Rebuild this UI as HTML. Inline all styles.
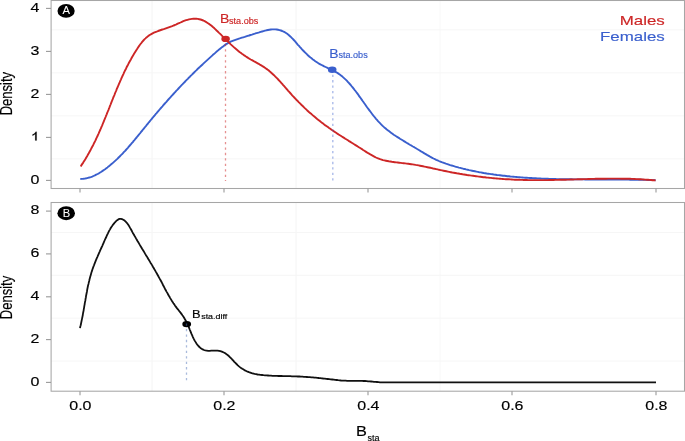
<!DOCTYPE html><html><head><meta charset="utf-8"><style>html,body{margin:0;padding:0;background:#fff;overflow:hidden}svg{display:block;will-change:transform}text{font-family:"Liberation Sans",sans-serif}</style></head><body>
<svg width="685" height="441" viewBox="0 0 685 441">
<rect width="685" height="441" fill="#fff"/>
<g stroke="#f6f6f6" stroke-width="1"><line x1="152.0" y1="0.5" x2="152.0" y2="188.5" stroke="#f4f4f4"/><line x1="152.0" y1="202.5" x2="152.0" y2="391.2" stroke="#f4f4f4"/><line x1="296.0" y1="0.5" x2="296.0" y2="188.5" stroke="#f4f4f4"/><line x1="296.0" y1="202.5" x2="296.0" y2="391.2" stroke="#f4f4f4"/><line x1="440.0" y1="0.5" x2="440.0" y2="188.5" stroke="#f8f8f8"/><line x1="440.0" y1="202.5" x2="440.0" y2="391.2" stroke="#f8f8f8"/><line x1="51" y1="158.9" x2="684" y2="158.9"/><line x1="51" y1="115.9" x2="684" y2="115.9"/><line x1="51" y1="72.9" x2="684" y2="72.9"/><line x1="51" y1="29.9" x2="684" y2="29.9"/><line x1="51" y1="361.0" x2="684" y2="361.0"/><line x1="51" y1="318.2" x2="684" y2="318.2"/><line x1="51" y1="275.3" x2="684" y2="275.3"/><line x1="51" y1="232.5" x2="684" y2="232.5"/></g>
<path d="M80.3 179.0 81.8 178.9 83.4 178.8 84.9 178.6 86.4 178.3 87.9 177.9 89.3 177.5 90.8 177.1 92.2 176.6 93.5 176.0 94.9 175.4 96.2 174.7 97.6 174.0 98.9 173.3 100.1 172.5 101.4 171.7 102.6 170.9 103.9 170.0 105.1 169.2 106.3 168.3 107.5 167.4 108.6 166.4 109.8 165.5 110.9 164.6 112.1 163.6 113.2 162.6 114.3 161.6 115.4 160.6 116.5 159.6 117.6 158.6 118.6 157.5 119.7 156.5 120.7 155.4 121.8 154.4 122.8 153.3 123.8 152.2 124.9 151.1 125.9 150.0 126.9 148.9 127.9 147.8 128.8 146.6 129.8 145.5 130.8 144.4 131.8 143.2 132.8 142.1 133.7 140.9 134.7 139.8 135.6 138.6 136.6 137.5 137.5 136.3 138.5 135.1 139.4 134.0 140.4 132.8 141.3 131.6 142.3 130.5 143.2 129.3 144.2 128.1 145.1 127.0 146.1 125.8 147.0 124.6 148.0 123.5 148.9 122.3 149.9 121.1 150.8 120.0 151.8 118.8 152.7 117.7 153.7 116.5 154.7 115.4 155.6 114.2 156.6 113.1 157.6 111.9 158.5 110.8 159.5 109.7 160.5 108.5 161.5 107.4 162.5 106.3 163.4 105.1 164.4 104.0 165.4 102.9 166.4 101.8 167.4 100.6 168.4 99.5 169.4 98.4 170.4 97.3 171.4 96.2 172.4 95.1 173.4 94.0 174.4 92.9 175.4 91.8 176.4 90.7 177.5 89.6 178.5 88.5 179.5 87.4 180.5 86.3 181.6 85.2 182.6 84.2 183.6 83.1 184.7 82.0 185.7 80.9 186.7 79.9 187.8 78.8 188.8 77.7 189.9 76.7 190.9 75.6 192.0 74.6 193.1 73.5 194.1 72.5 195.2 71.4 196.3 70.4 197.3 69.3 198.4 68.3 199.5 67.3 200.6 66.2 201.7 65.2 202.8 64.2 203.9 63.1 205.0 62.1 206.1 61.1 207.2 60.1 208.3 59.1 209.4 58.1 210.5 57.1 211.6 56.1 212.7 55.1 213.9 54.1 215.0 53.1 216.1 52.1 217.3 51.1 218.4 50.1 219.5 49.2 220.7 48.2 221.9 47.3 223.1 46.4 224.3 45.5 225.5 44.6 226.7 43.8 228.0 43.1 229.3 42.4 230.6 41.7 232.0 41.1 233.3 40.6 234.7 40.1 236.1 39.6 237.6 39.1 239.0 38.6 240.4 38.2 241.9 37.7 243.3 37.3 244.7 36.9 246.2 36.4 247.6 35.9 249.1 35.5 250.5 35.0 251.9 34.6 253.4 34.1 254.8 33.7 256.3 33.2 257.7 32.8 259.2 32.4 260.6 31.9 262.1 31.5 263.5 31.1 265.0 30.7 266.5 30.3 267.9 30.0 269.4 29.7 270.9 29.5 272.3 29.4 273.8 29.4 275.2 29.4 276.7 29.5 278.1 29.8 279.5 30.1 280.9 30.5 282.2 31.0 283.5 31.6 284.8 32.2 286.0 33.0 287.2 33.8 288.4 34.7 289.5 35.7 290.6 36.7 291.7 37.8 292.8 38.9 293.8 40.0 294.9 41.2 295.9 42.4 296.9 43.6 297.9 44.8 299.0 45.9 300.0 47.1 301.0 48.2 302.0 49.4 303.1 50.5 304.1 51.5 305.2 52.6 306.3 53.7 307.3 54.7 308.4 55.7 309.5 56.7 310.6 57.6 311.8 58.5 312.9 59.4 314.1 60.3 315.3 61.2 316.5 62.0 317.7 62.8 319.0 63.6 320.3 64.3 321.6 65.0 322.9 65.7 324.2 66.4 325.6 67.0 327.0 67.6 328.4 68.3 329.7 68.9 331.1 69.5 332.5 70.2 333.8 70.9 335.1 71.6 336.4 72.3 337.7 73.1 338.9 73.9 340.1 74.8 341.3 75.7 342.4 76.6 343.5 77.6 344.6 78.6 345.7 79.6 346.8 80.7 347.8 81.8 348.8 82.9 349.8 84.0 350.8 85.1 351.7 86.3 352.7 87.4 353.6 88.6 354.5 89.8 355.5 91.0 356.4 92.2 357.3 93.4 358.2 94.6 359.0 95.9 359.9 97.1 360.8 98.3 361.7 99.6 362.5 100.8 363.4 102.0 364.3 103.3 365.2 104.5 366.0 105.7 366.9 107.0 367.8 108.2 368.7 109.4 369.6 110.6 370.5 111.8 371.4 113.0 372.3 114.2 373.2 115.4 374.1 116.5 375.1 117.7 376.0 118.8 377.0 119.9 378.0 121.1 379.0 122.2 380.0 123.2 381.1 124.3 382.1 125.3 383.2 126.4 384.3 127.4 385.4 128.3 386.5 129.3 387.7 130.2 388.9 131.1 390.1 132.0 391.3 132.9 392.5 133.8 393.7 134.7 395.0 135.5 396.2 136.3 397.5 137.1 398.8 137.9 400.0 138.7 401.3 139.5 402.6 140.3 403.9 141.1 405.2 141.9 406.5 142.7 407.7 143.4 409.0 144.2 410.3 145.0 411.6 145.7 412.9 146.5 414.2 147.2 415.5 148.0 416.8 148.8 418.0 149.5 419.3 150.3 420.6 151.1 421.9 151.8 423.2 152.6 424.4 153.4 425.7 154.1 427.0 154.9 428.3 155.6 429.6 156.4 430.9 157.1 432.2 157.8 433.5 158.5 434.9 159.2 436.2 159.8 437.6 160.4 438.9 161.0 440.3 161.6 441.7 162.2 443.1 162.7 444.5 163.2 445.9 163.7 447.4 164.1 448.8 164.6 450.2 165.1 451.7 165.5 453.1 165.9 454.6 166.4 456.0 166.8 457.4 167.2 458.9 167.6 460.3 167.9 461.8 168.3 463.2 168.7 464.7 169.0 466.1 169.4 467.6 169.7 469.1 170.1 470.5 170.4 472.0 170.7 473.4 171.0 474.9 171.3 476.4 171.6 477.8 171.9 479.3 172.2 480.8 172.4 482.3 172.7 483.7 173.0 485.2 173.2 486.7 173.5 488.2 173.7 489.6 173.9 491.1 174.1 492.6 174.3 494.1 174.6 495.6 174.8 497.0 175.0 498.5 175.1 500.0 175.3 501.5 175.5 503.0 175.7 504.5 175.8 506.0 176.0 507.4 176.2 508.9 176.3 510.4 176.5 511.9 176.6 513.4 176.7 514.9 176.9 516.4 177.0 517.9 177.1 519.4 177.2 520.9 177.4 522.4 177.5 523.9 177.6 525.3 177.7 526.8 177.8 528.3 177.9 529.8 178.0 531.3 178.0 532.8 178.1 534.3 178.2 535.8 178.3 537.3 178.4 538.8 178.4 540.3 178.5 541.8 178.6 543.3 178.6 544.8 178.7 546.3 178.7 547.8 178.8 549.3 178.9 550.8 178.9 552.3 178.9 553.8 179.0 555.3 179.0 556.8 179.1 558.3 179.1 559.7 179.1 561.2 179.2 562.7 179.2 564.2 179.2 565.7 179.3 567.2 179.3 568.7 179.3 570.2 179.3 571.7 179.3 573.2 179.4 574.7 179.4 576.2 179.4 577.7 179.4 579.2 179.4 580.7 179.4 582.2 179.4 583.7 179.4 585.2 179.5 586.7 179.5 588.2 179.5 589.7 179.5 591.2 179.5 592.7 179.5 594.2 179.5 595.7 179.5 597.2 179.5 598.7 179.5 600.2 179.5 601.7 179.5 603.2 179.5 604.7 179.5 606.2 179.5 607.7 179.5 609.2 179.5 610.7 179.5 612.2 179.5 613.7 179.5 615.2 179.5 616.7 179.6 618.2 179.6 619.7 179.6 621.2 179.6 622.7 179.6 624.2 179.6 625.7 179.6 627.2 179.6 628.7 179.6 630.2 179.7 631.7 179.7 633.2 179.7 634.7 179.7 636.1 179.7 637.6 179.8 639.1 179.8 640.6 179.8 642.1 179.8 643.6 179.9 645.1 179.9 646.6 179.9 648.1 180.0 649.6 180.0 651.1 180.1 652.6 180.1 654.1 180.1 655.6 180.2" fill="none" stroke="#3A5FCD" stroke-width="1.9" stroke-linejoin="round" stroke-linecap="butt"/>
<path d="M80.7 166.4 81.5 165.1 82.3 163.9 83.2 162.6 84.0 161.3 84.8 160.1 85.6 158.8 86.3 157.5 87.1 156.2 87.8 154.9 88.6 153.6 89.3 152.3 90.0 151.0 90.7 149.7 91.4 148.3 92.1 147.0 92.8 145.7 93.5 144.4 94.1 143.0 94.8 141.7 95.5 140.3 96.1 139.0 96.7 137.6 97.4 136.3 98.0 134.9 98.6 133.6 99.2 132.2 99.8 130.8 100.4 129.5 101.0 128.1 101.6 126.7 102.2 125.3 102.7 124.0 103.3 122.6 103.9 121.2 104.4 119.8 105.0 118.4 105.6 117.0 106.1 115.6 106.7 114.3 107.2 112.9 107.8 111.5 108.4 110.1 108.9 108.7 109.5 107.3 110.0 105.9 110.6 104.5 111.1 103.1 111.7 101.7 112.2 100.3 112.8 98.9 113.3 97.5 113.9 96.2 114.5 94.8 115.0 93.4 115.6 92.0 116.2 90.6 116.7 89.2 117.3 87.8 117.9 86.5 118.5 85.1 119.1 83.7 119.7 82.3 120.3 80.9 120.9 79.6 121.5 78.2 122.1 76.8 122.7 75.5 123.4 74.1 124.0 72.7 124.6 71.4 125.3 70.0 126.0 68.7 126.6 67.3 127.3 66.0 128.0 64.7 128.7 63.3 129.4 62.0 130.1 60.7 130.9 59.4 131.6 58.0 132.3 56.7 133.1 55.4 133.9 54.1 134.7 52.8 135.5 51.5 136.3 50.2 137.1 49.0 137.9 47.7 138.8 46.4 139.6 45.2 140.5 44.0 141.5 42.8 142.4 41.6 143.4 40.5 144.4 39.4 145.5 38.4 146.5 37.4 147.7 36.5 148.8 35.6 150.1 34.8 151.3 34.1 152.6 33.4 153.9 32.7 155.3 32.1 156.7 31.6 158.1 31.0 159.5 30.5 160.9 30.0 162.3 29.5 163.7 29.1 165.2 28.6 166.6 28.1 168.0 27.6 169.4 27.1 170.8 26.6 172.2 26.1 173.6 25.5 175.0 25.0 176.4 24.4 177.7 23.7 179.1 23.1 180.5 22.5 181.9 21.8 183.3 21.2 184.7 20.7 186.1 20.2 187.5 19.8 189.0 19.4 190.5 19.1 191.9 18.9 193.4 18.8 194.9 18.7 196.3 18.8 197.8 18.9 199.2 19.2 200.6 19.5 202.0 20.0 203.3 20.5 204.6 21.2 205.9 21.9 207.2 22.7 208.4 23.5 209.7 24.4 210.9 25.3 212.1 26.3 213.2 27.3 214.4 28.3 215.5 29.4 216.6 30.5 217.7 31.5 218.8 32.6 219.9 33.6 221.0 34.7 222.1 35.8 223.1 36.8 224.2 37.9 225.2 38.9 226.3 40.0 227.3 41.0 228.4 42.0 229.5 43.1 230.5 44.1 231.6 45.1 232.7 46.1 233.8 47.1 234.9 48.1 236.0 49.0 237.2 50.0 238.3 50.9 239.5 51.9 240.7 52.8 241.9 53.7 243.1 54.5 244.3 55.4 245.6 56.3 246.9 57.1 248.1 57.9 249.4 58.7 250.7 59.5 252.0 60.2 253.3 60.9 254.7 61.7 256.0 62.4 257.3 63.1 258.6 63.8 259.9 64.6 261.2 65.3 262.4 66.1 263.7 66.9 264.9 67.7 266.1 68.6 267.3 69.4 268.5 70.3 269.6 71.3 270.7 72.2 271.8 73.2 272.9 74.2 274.0 75.2 275.1 76.3 276.1 77.3 277.2 78.4 278.2 79.5 279.2 80.6 280.2 81.7 281.2 82.8 282.2 83.9 283.2 85.1 284.2 86.2 285.2 87.3 286.2 88.5 287.2 89.6 288.2 90.8 289.2 91.9 290.2 93.0 291.2 94.1 292.2 95.3 293.2 96.4 294.3 97.5 295.3 98.6 296.3 99.7 297.4 100.7 298.4 101.8 299.5 102.9 300.5 103.9 301.6 105.0 302.7 106.0 303.8 107.1 304.8 108.1 305.9 109.1 307.0 110.2 308.1 111.2 309.2 112.2 310.4 113.2 311.5 114.1 312.6 115.1 313.7 116.1 314.9 117.1 316.0 118.0 317.2 119.0 318.4 119.9 319.5 120.8 320.7 121.8 321.9 122.7 323.1 123.6 324.2 124.5 325.4 125.4 326.7 126.2 327.9 127.1 329.1 128.0 330.3 128.8 331.5 129.7 332.8 130.5 334.0 131.4 335.3 132.2 336.5 133.0 337.7 133.9 339.0 134.7 340.3 135.5 341.5 136.3 342.8 137.1 344.1 137.9 345.3 138.7 346.6 139.5 347.9 140.3 349.1 141.1 350.4 141.9 351.7 142.7 353.0 143.5 354.2 144.3 355.5 145.1 356.8 145.9 358.1 146.7 359.3 147.5 360.6 148.3 361.9 149.1 363.1 150.0 364.4 150.8 365.7 151.6 366.9 152.4 368.2 153.2 369.5 153.9 370.8 154.7 372.1 155.4 373.4 156.1 374.7 156.8 376.0 157.5 377.4 158.1 378.7 158.6 380.1 159.2 381.5 159.6 383.0 160.1 384.4 160.4 385.9 160.7 387.3 161.0 388.8 161.3 390.3 161.5 391.8 161.8 393.3 162.0 394.8 162.2 396.3 162.4 397.7 162.5 399.2 162.7 400.7 162.9 402.2 163.1 403.7 163.2 405.2 163.4 406.7 163.6 408.2 163.8 409.7 164.0 411.2 164.2 412.6 164.4 414.1 164.6 415.6 164.9 417.1 165.1 418.6 165.4 420.0 165.7 421.5 166.0 423.0 166.3 424.4 166.6 425.9 166.9 427.4 167.2 428.8 167.5 430.3 167.8 431.8 168.1 433.2 168.5 434.7 168.8 436.1 169.1 437.6 169.4 439.1 169.8 440.5 170.1 442.0 170.4 443.5 170.7 444.9 171.0 446.4 171.3 447.9 171.6 449.3 171.9 450.8 172.2 452.3 172.5 453.8 172.7 455.2 173.0 456.7 173.3 458.2 173.5 459.7 173.8 461.1 174.0 462.6 174.3 464.1 174.5 465.6 174.7 467.1 175.0 468.5 175.2 470.0 175.4 471.5 175.6 473.0 175.8 474.5 176.0 476.0 176.2 477.4 176.4 478.9 176.6 480.4 176.8 481.9 177.0 483.4 177.2 484.9 177.3 486.4 177.5 487.9 177.6 489.4 177.8 490.9 177.9 492.3 178.1 493.8 178.2 495.3 178.4 496.8 178.5 498.3 178.6 499.8 178.7 501.3 178.9 502.8 179.0 504.3 179.1 505.8 179.2 507.3 179.3 508.8 179.3 510.3 179.4 511.8 179.5 513.3 179.6 514.8 179.7 516.3 179.7 517.8 179.8 519.3 179.8 520.8 179.9 522.3 179.9 523.7 180.0 525.2 180.0 526.7 180.0 528.2 180.1 529.7 180.1 531.2 180.1 532.7 180.1 534.2 180.1 535.7 180.1 537.2 180.1 538.7 180.1 540.2 180.1 541.7 180.1 543.2 180.1 544.7 180.1 546.2 180.1 547.7 180.1 549.2 180.0 550.7 180.0 552.2 180.0 553.7 180.0 555.2 179.9 556.7 179.9 558.2 179.9 559.7 179.8 561.2 179.8 562.7 179.8 564.2 179.7 565.7 179.7 567.2 179.6 568.7 179.6 570.2 179.5 571.7 179.5 573.2 179.5 574.7 179.4 576.2 179.4 577.7 179.3 579.2 179.3 580.7 179.2 582.2 179.2 583.7 179.1 585.2 179.1 586.7 179.1 588.2 179.0 589.7 179.0 591.2 178.9 592.7 178.9 594.2 178.9 595.7 178.8 597.2 178.8 598.7 178.8 600.2 178.7 601.7 178.7 603.2 178.7 604.7 178.7 606.2 178.7 607.7 178.6 609.2 178.6 610.7 178.6 612.2 178.6 613.7 178.6 615.2 178.6 616.7 178.6 618.1 178.6 619.6 178.6 621.1 178.7 622.6 178.7 624.1 178.7 625.6 178.7 627.1 178.8 628.6 178.8 630.1 178.8 631.6 178.9 633.1 178.9 634.6 179.0 636.1 179.1 637.6 179.1 639.1 179.2 640.6 179.3 642.1 179.4 643.6 179.5 645.1 179.6 646.6 179.7 648.1 179.8 649.6 179.9 651.1 180.0 652.6 180.2 654.1 180.3 655.6 180.4" fill="none" stroke="#CD2626" stroke-width="1.9" stroke-linejoin="round" stroke-linecap="butt"/>
<line x1="225.5" y1="38.4" x2="225.5" y2="180.9" stroke="#CD2626" stroke-width="1.3" stroke-dasharray="2.3 3.15" opacity="0.5"/>
<line x1="332.8" y1="69.2" x2="332.8" y2="180.9" stroke="#3A5FCD" stroke-width="1.4" stroke-dasharray="2.3 3.15" opacity="0.42"/>
<ellipse cx="225.6" cy="38.9" rx="4.3" ry="3.1" fill="#CD2626"/>
<ellipse cx="332.2" cy="69.7" rx="4.3" ry="3.3" fill="#3A5FCD"/>
<path d="M80.0 328.1 80.3 326.6 80.7 325.2 81.0 323.7 81.3 322.3 81.6 320.8 81.9 319.4 82.2 317.9 82.5 316.5 82.8 315.0 83.0 313.5 83.3 312.0 83.6 310.6 83.8 309.1 84.1 307.6 84.3 306.1 84.6 304.6 84.8 303.1 85.1 301.6 85.4 300.2 85.6 298.7 85.9 297.2 86.1 295.7 86.4 294.2 86.7 292.7 87.0 291.2 87.2 289.8 87.5 288.3 87.8 286.8 88.1 285.3 88.5 283.9 88.8 282.4 89.2 281.0 89.5 279.5 89.9 278.1 90.3 276.6 90.7 275.2 91.1 273.8 91.5 272.3 92.0 270.9 92.4 269.5 92.9 268.1 93.4 266.7 94.0 265.3 94.5 263.9 95.0 262.6 95.6 261.2 96.1 259.8 96.7 258.4 97.3 257.1 97.9 255.7 98.5 254.3 99.1 252.9 99.7 251.6 100.3 250.2 100.9 248.8 101.5 247.5 102.2 246.1 102.8 244.7 103.4 243.3 104.0 241.9 104.6 240.5 105.2 239.1 105.9 237.8 106.5 236.4 107.1 235.0 107.8 233.6 108.4 232.3 109.1 230.9 109.9 229.6 110.6 228.3 111.4 227.0 112.3 225.8 113.1 224.6 114.1 223.4 115.0 222.3 116.1 221.2 117.2 220.2 118.3 219.4 119.5 218.9 120.8 218.8 122.0 219.1 123.3 219.7 124.6 220.6 125.7 221.7 126.8 222.8 127.7 224.0 128.6 225.3 129.4 226.6 130.1 227.9 130.9 229.2 131.6 230.5 132.3 231.9 133.0 233.2 133.8 234.5 134.5 235.8 135.3 237.1 136.0 238.4 136.8 239.7 137.5 241.0 138.3 242.3 139.1 243.6 139.8 244.9 140.6 246.2 141.4 247.5 142.1 248.8 142.9 250.0 143.7 251.3 144.5 252.6 145.2 253.9 146.0 255.2 146.8 256.4 147.6 257.7 148.3 259.0 149.1 260.3 149.9 261.6 150.6 262.9 151.4 264.1 152.2 265.4 152.9 266.7 153.7 268.0 154.4 269.3 155.2 270.6 155.9 271.9 156.7 273.2 157.4 274.5 158.1 275.8 158.8 277.1 159.5 278.4 160.3 279.7 161.0 281.0 161.7 282.3 162.4 283.7 163.0 285.0 163.7 286.3 164.4 287.6 165.1 289.0 165.8 290.3 166.5 291.6 167.3 292.9 168.0 294.2 168.7 295.5 169.5 296.8 170.2 298.1 171.0 299.4 171.8 300.7 172.6 301.9 173.4 303.2 174.3 304.4 175.1 305.7 176.0 306.9 176.9 308.1 177.9 309.3 178.8 310.5 179.7 311.7 180.7 312.9 181.6 314.1 182.4 315.3 183.3 316.5 184.1 317.7 184.8 319.0 185.5 320.2 186.2 321.5 186.8 322.7 187.4 324.0 188.0 325.4 188.6 326.7 189.2 328.1 189.7 329.5 190.3 330.9 190.9 332.4 191.5 333.9 192.2 335.4 192.8 336.8 193.5 338.3 194.2 339.7 195.0 341.1 195.8 342.4 196.6 343.7 197.5 344.9 198.4 346.0 199.4 347.0 200.4 347.9 201.6 348.7 202.7 349.4 204.0 350.0 205.3 350.4 206.7 350.6 208.2 350.8 209.7 350.8 211.3 350.7 212.9 350.7 214.5 350.6 216.0 350.6 217.5 350.7 219.0 350.9 220.4 351.2 221.8 351.7 223.1 352.2 224.4 352.8 225.6 353.6 226.8 354.4 227.9 355.3 229.1 356.3 230.1 357.3 231.2 358.4 232.2 359.5 233.3 360.6 234.3 361.8 235.4 362.9 236.5 364.0 237.6 365.1 238.7 366.1 239.9 367.1 241.1 368.0 242.3 368.8 243.6 369.6 244.9 370.4 246.2 371.0 247.6 371.7 248.9 372.2 250.3 372.7 251.7 373.2 253.2 373.5 254.6 373.9 256.1 374.2 257.6 374.5 259.0 374.7 260.5 374.9 262.0 375.0 263.5 375.2 265.0 375.3 266.5 375.4 268.0 375.5 269.5 375.6 271.0 375.7 272.5 375.8 274.0 375.8 275.5 375.9 277.0 375.9 278.5 376.0 280.0 376.0 281.5 376.0 283.0 376.1 284.5 376.1 286.0 376.1 287.5 376.2 288.9 376.2 290.4 376.2 291.9 376.3 293.4 376.3 294.9 376.4 296.4 376.4 297.9 376.5 299.4 376.5 300.9 376.6 302.4 376.7 303.9 376.8 305.4 376.9 306.9 377.0 308.4 377.1 309.9 377.2 311.4 377.3 312.9 377.4 314.3 377.6 315.8 377.7 317.3 377.8 318.8 378.0 320.3 378.1 321.8 378.3 323.3 378.5 324.8 378.6 326.3 378.8 327.8 379.0 329.2 379.2 330.7 379.4 332.2 379.5 333.7 379.7 335.2 379.9 336.7 380.0 338.2 380.2 339.6 380.3 341.1 380.5 342.6 380.6 344.1 380.6 345.6 380.7 347.1 380.8 348.6 380.8 350.1 380.8 351.6 380.8 353.1 380.8 354.6 380.8 356.1 380.8 357.6 380.8 359.1 380.8 360.6 380.8 362.1 380.9 363.6 381.0 365.1 381.0 366.6 381.1 368.1 381.3 369.6 381.4 371.1 381.5 372.6 381.6 374.0 381.8 375.5 381.9 377.0 382.0 378.5 382.1 380.0 382.3 381.5 382.4 383.0 382.4 384.5 382.4 386.0 382.4 387.5 382.4 389.0 382.4 390.5 382.4 392.0 382.4 393.5 382.4 395.0 382.4 L420.0 382.4 L656.0 382.4" fill="none" stroke="#111" stroke-width="1.8" stroke-linejoin="round" stroke-linecap="butt"/>
<ellipse cx="186.7" cy="324.1" rx="4.4" ry="3.2" fill="#000"/>
<line x1="186.5" y1="323.5" x2="186.5" y2="383" stroke="#5577bb" stroke-width="1.3" stroke-dasharray="2.3 3.15" opacity="0.5"/>
<rect x="51.1" y="0.5" width="633.4" height="188.0" fill="none" stroke="#a6a6a6" stroke-width="1.05"/>
<rect x="51.1" y="202.5" width="633.4" height="188.7" fill="none" stroke="#a6a6a6" stroke-width="1.05"/>
<g stroke="#999999" stroke-width="1.1"><line x1="46" y1="180.4" x2="51" y2="180.4"/><line x1="46" y1="137.4" x2="51" y2="137.4"/><line x1="46" y1="94.4" x2="51" y2="94.4"/><line x1="46" y1="51.4" x2="51" y2="51.4"/><line x1="46" y1="8.4" x2="51" y2="8.4"/><line x1="46" y1="382.4" x2="51" y2="382.4"/><line x1="46" y1="339.6" x2="51" y2="339.6"/><line x1="46" y1="296.8" x2="51" y2="296.8"/><line x1="46" y1="253.9" x2="51" y2="253.9"/><line x1="46" y1="211.1" x2="51" y2="211.1"/><line x1="80.0" y1="188.5" x2="80.0" y2="192.5"/><line x1="80.0" y1="391.2" x2="80.0" y2="395.2"/><line x1="224.0" y1="188.5" x2="224.0" y2="192.5"/><line x1="224.0" y1="391.2" x2="224.0" y2="395.2"/><line x1="368.0" y1="188.5" x2="368.0" y2="192.5"/><line x1="368.0" y1="391.2" x2="368.0" y2="395.2"/><line x1="512.0" y1="188.5" x2="512.0" y2="192.5"/><line x1="512.0" y1="391.2" x2="512.0" y2="395.2"/><line x1="656.0" y1="188.5" x2="656.0" y2="192.5"/><line x1="656.0" y1="391.2" x2="656.0" y2="395.2"/></g>
<text transform="translate(39.35 183.70) scale(1.240 1)" font-size="12.90" text-anchor="end" fill="#000" stroke="#000" stroke-width="0.15" font-weight="normal">0</text>
<path d="M35.2 140.5 L36.65 140.5 L36.65 131.7 L35.7 131.7 C35.3 132.8 34.2 133.8 32.5 134.4 L32.5 135.7 C33.6 135.3 34.6 134.7 35.2 134 Z" fill="#000" stroke="#000" stroke-width="0.15"/>
<text transform="translate(39.35 97.70) scale(1.240 1)" font-size="12.90" text-anchor="end" fill="#000" stroke="#000" stroke-width="0.15" font-weight="normal">2</text>
<text transform="translate(39.35 54.70) scale(1.240 1)" font-size="12.90" text-anchor="end" fill="#000" stroke="#000" stroke-width="0.15" font-weight="normal">3</text>
<text transform="translate(39.35 11.70) scale(1.240 1)" font-size="12.90" text-anchor="end" fill="#000" stroke="#000" stroke-width="0.15" font-weight="normal">4</text>
<text transform="translate(39.35 385.70) scale(1.240 1)" font-size="12.90" text-anchor="end" fill="#000" stroke="#000" stroke-width="0.15" font-weight="normal">0</text>
<text transform="translate(39.35 342.88) scale(1.240 1)" font-size="12.90" text-anchor="end" fill="#000" stroke="#000" stroke-width="0.15" font-weight="normal">2</text>
<text transform="translate(39.35 300.06) scale(1.240 1)" font-size="12.90" text-anchor="end" fill="#000" stroke="#000" stroke-width="0.15" font-weight="normal">4</text>
<text transform="translate(39.35 257.24) scale(1.240 1)" font-size="12.90" text-anchor="end" fill="#000" stroke="#000" stroke-width="0.15" font-weight="normal">6</text>
<text transform="translate(39.35 214.42) scale(1.240 1)" font-size="12.90" text-anchor="end" fill="#000" stroke="#000" stroke-width="0.15" font-weight="normal">8</text>
<text transform="translate(80.40 409.80) scale(1.240 1)" font-size="12.90" text-anchor="middle" fill="#000" stroke="#000" stroke-width="0.15" font-weight="normal">0.0</text>
<text transform="translate(224.40 409.80) scale(1.240 1)" font-size="12.90" text-anchor="middle" fill="#000" stroke="#000" stroke-width="0.15" font-weight="normal">0.2</text>
<text transform="translate(368.40 409.80) scale(1.240 1)" font-size="12.90" text-anchor="middle" fill="#000" stroke="#000" stroke-width="0.15" font-weight="normal">0.4</text>
<text transform="translate(512.40 409.80) scale(1.240 1)" font-size="12.90" text-anchor="middle" fill="#000" stroke="#000" stroke-width="0.15" font-weight="normal">0.6</text>
<text transform="translate(656.40 409.80) scale(1.240 1)" font-size="12.90" text-anchor="middle" fill="#000" stroke="#000" stroke-width="0.15" font-weight="normal">0.8</text>
<text transform="translate(11.9 93.6) rotate(-90) scale(1 1.340)" font-size="13" text-anchor="middle" stroke="#000" stroke-width="0.15">Density</text>
<text transform="translate(11.9 297.5) rotate(-90) scale(1 1.340)" font-size="13" text-anchor="middle" stroke="#000" stroke-width="0.15">Density</text>
<text transform="translate(356.00 436.40) scale(1.170 1)" font-size="13.95" text-anchor="start" fill="#000" stroke="#000" stroke-width="0.15" font-weight="normal">B</text>
<text transform="translate(367.40 440.90) scale(1.000 1)" font-size="9.00" text-anchor="start" fill="#000" stroke="#000" stroke-width="0.15" font-weight="normal">sta</text>
<text transform="translate(664.80 25.00) scale(1.280 1)" font-size="13.20" text-anchor="end" fill="#CD2626" stroke="#CD2626" stroke-width="0.15" font-weight="normal">Males</text>
<text transform="translate(664.80 41.40) scale(1.280 1)" font-size="13.20" text-anchor="end" fill="#3A5FCD" stroke="#3A5FCD" stroke-width="0.15" font-weight="normal">Females</text>
<text transform="translate(220.00 23.20) scale(1.140 1)" font-size="12.35" text-anchor="start" fill="#CD2626" stroke="#CD2626" stroke-width="0.15" font-weight="normal">B</text>
<text transform="translate(229.00 23.70) scale(1.110 1)" font-size="8.20" text-anchor="start" fill="#CD2626" stroke="#CD2626" stroke-width="0.15" font-weight="normal">sta.obs</text>
<text transform="translate(329.20 57.90) scale(1.140 1)" font-size="12.20" text-anchor="start" fill="#3A5FCD" stroke="#3A5FCD" stroke-width="0.15" font-weight="normal">B</text>
<text transform="translate(338.40 58.40) scale(1.110 1)" font-size="8.20" text-anchor="start" fill="#3A5FCD" stroke="#3A5FCD" stroke-width="0.15" font-weight="normal">sta.obs</text>
<text transform="translate(192.00 318.30) scale(1.140 1)" font-size="11.30" text-anchor="start" fill="#000" stroke="#000" stroke-width="0.15" font-weight="normal">B</text>
<text transform="translate(201.20 318.70) scale(1.140 1)" font-size="7.80" text-anchor="start" fill="#000" stroke="#000" stroke-width="0.15" font-weight="normal">sta.diff</text>
<ellipse cx="66.1" cy="10.9" rx="8.6" ry="6.9" fill="#000"/>
<text transform="translate(66.20 14.40) scale(1.100 1)" font-size="10.20" text-anchor="middle" fill="#fff" stroke="#fff" stroke-width="0.05" font-weight="normal">A</text>
<ellipse cx="66.2" cy="213.2" rx="8.8" ry="6.95" fill="#000"/>
<text transform="translate(66.40 217.00) scale(1.120 1)" font-size="10.00" text-anchor="middle" fill="#fff" stroke="#fff" stroke-width="0.05" font-weight="normal">B</text>
</svg></body></html>
